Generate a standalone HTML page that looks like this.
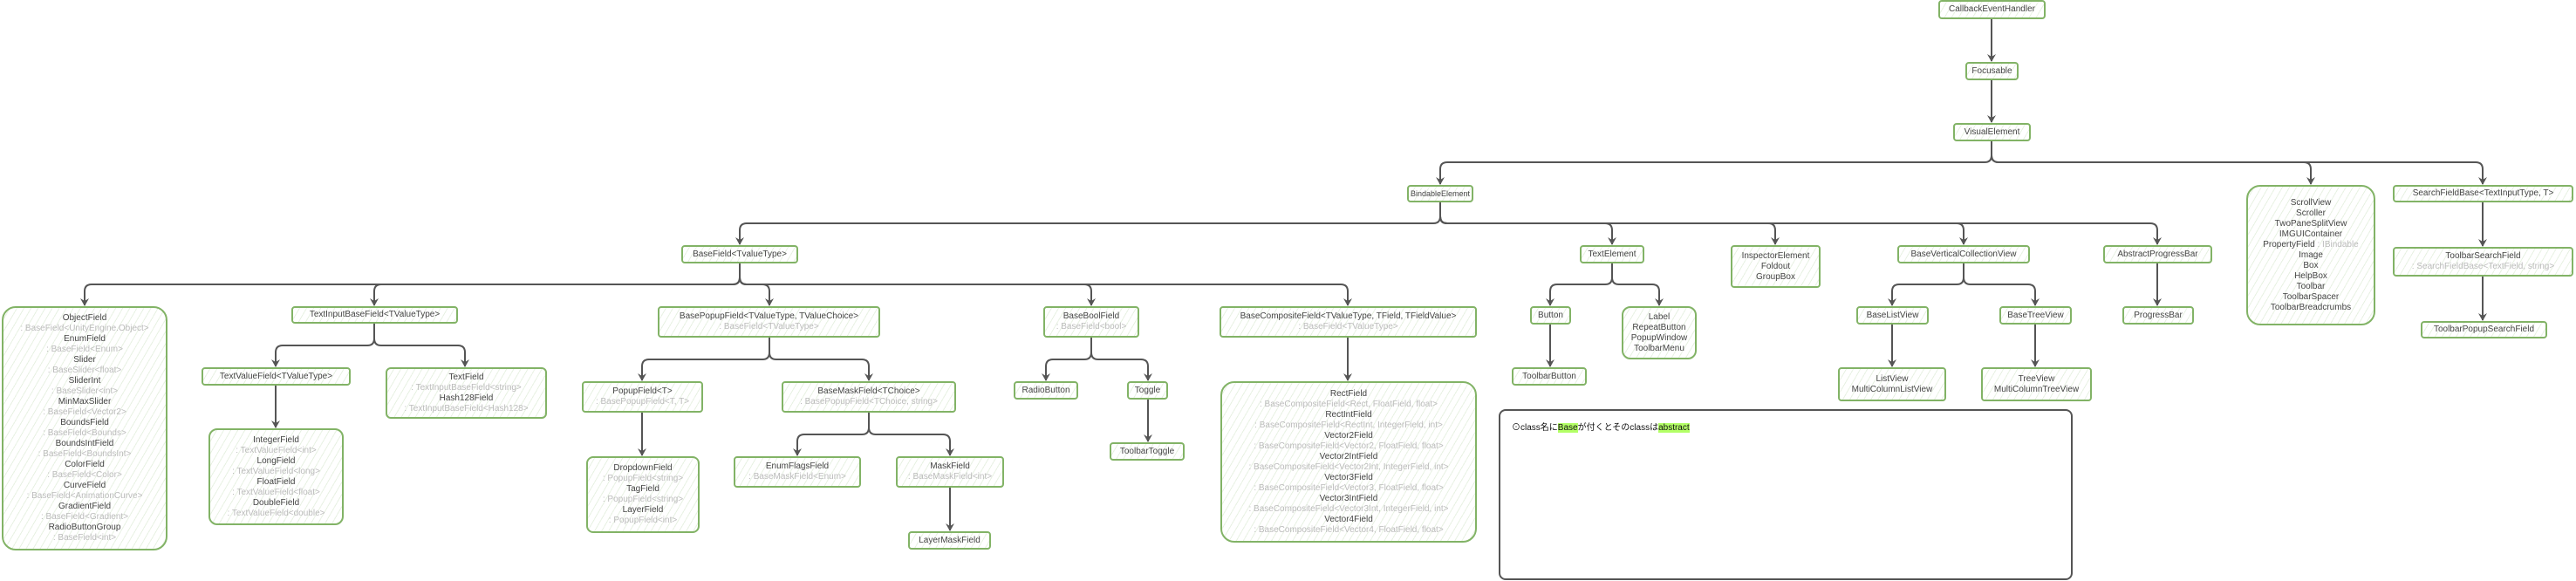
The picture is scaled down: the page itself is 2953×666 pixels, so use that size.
<!DOCTYPE html>
<html><head><meta charset="utf-8">
<style>
html,body{margin:0;padding:0;background:#fff;}
body{width:2953px;height:666px;position:relative;overflow:hidden;font-family:"Liberation Sans","Noto Sans CJK JP",sans-serif;}
svg{position:absolute;left:0;top:0;}
.n{position:absolute;box-sizing:border-box;border:2px solid #82b366;border-radius:4px;display:flex;flex-direction:column;align-items:center;justify-content:center;font-size:10px;line-height:12px;color:#444;text-align:center;white-space:nowrap;
background:repeating-linear-gradient(120deg,rgba(130,179,102,0.0) 0 6px,rgba(130,179,102,0.18) 6px 7px);}
.r{border-radius:16px;}
.s{color:#bbb;}
.note{position:absolute;box-sizing:border-box;border:2px solid #555;border-radius:8px;left:1718px;top:469px;width:658px;height:196px;font-size:10px;color:#111;padding:10px 0 0 13px;}
.hl{background:#b3ff66;}
</style></head><body>
<svg width="2953" height="666" viewBox="0 0 2953 666">
<defs><marker id="a" markerWidth="10" markerHeight="10" refX="8" refY="5" orient="auto" markerUnits="userSpaceOnUse"><path d="M0,0 L9,5 L0,10 L3,5 Z" fill="#555"/></marker></defs>
<g fill="none" stroke="#555" stroke-width="2" stroke-linejoin="round" marker-end="url(#a)">
<path d="M2283,22 V70"/>
<path d="M2283,92 V140"/>
<path d="M2283,162 V178 Q2283,186 2275,186 H1659 Q1651,186 1651,194 V211"/>
<path d="M2283,162 V178 Q2283,186 2291,186 H2641 Q2649,186 2649,194 V211"/>
<path d="M2283,162 V178 Q2283,186 2291,186 H2838 Q2846,186 2846,194 V211"/>
<path d="M1651,232 V248 Q1651,256 1643,256 H856 Q848,256 848,264 V280"/>
<path d="M1651,232 V248 Q1651,256 1659,256 H1840 Q1848,256 1848,264 V280"/>
<path d="M1651,232 V248 Q1651,256 1659,256 H2027 Q2035,256 2035,264 V280"/>
<path d="M1651,232 V248 Q1651,256 1659,256 H2243 Q2251,256 2251,264 V280"/>
<path d="M1651,232 V248 Q1651,256 1659,256 H2465 Q2473,256 2473,264 V280"/>
<path d="M848,302 V318 Q848,326 840,326 H105 Q97,326 97,334 V350"/>
<path d="M848,302 V318 Q848,326 840,326 H437 Q429,326 429,334 V350"/>
<path d="M848,302 V318 Q848,326 856,326 H874 Q882,326 882,334 V350"/>
<path d="M848,302 V318 Q848,326 856,326 H1243 Q1251,326 1251,334 V350"/>
<path d="M848,302 V318 Q848,326 856,326 H1537 Q1545,326 1545,334 V350"/>
<path d="M429,371 V388 Q429,396 421,396 H324 Q316,396 316,404 V420"/>
<path d="M429,371 V388 Q429,396 437,396 H525 Q533,396 533,404 V420"/>
<path d="M316,442 V490"/>
<path d="M882,387 V404 Q882,412 874,412 H744 Q736,412 736,420 V436"/>
<path d="M882,387 V404 Q882,412 890,412 H988 Q996,412 996,420 V436"/>
<path d="M736,473 V522"/>
<path d="M996,473 V490 Q996,498 988,498 H922 Q914,498 914,506 V522"/>
<path d="M996,473 V490 Q996,498 1004,498 H1081 Q1089,498 1089,506 V522"/>
<path d="M1089,559 V608"/>
<path d="M1251,387 V404 Q1251,412 1243,412 H1207 Q1199,412 1199,420 V436"/>
<path d="M1251,387 V404 Q1251,412 1259,412 H1308 Q1316,412 1316,420 V436"/>
<path d="M1316,458 V506"/>
<path d="M1545,387 V436"/>
<path d="M1848,302 V318 Q1848,326 1840,326 H1785 Q1777,326 1777,334 V350"/>
<path d="M1848,302 V318 Q1848,326 1856,326 H1894 Q1902,326 1902,334 V350"/>
<path d="M1777,372 V420"/>
<path d="M2251,302 V318 Q2251,326 2243,326 H2177 Q2169,326 2169,334 V350"/>
<path d="M2251,302 V318 Q2251,326 2259,326 H2325 Q2333,326 2333,334 V350"/>
<path d="M2169,372 V420"/>
<path d="M2333,372 V420"/>
<path d="M2473,302 V350"/>
<path d="M2846,232 V282"/>
<path d="M2846,317 V367"/>
</g>
</svg>

<div class="n" style="left:2222px;top:0px;width:123px;height:22px">CallbackEventHandler</div>
<div class="n" style="left:2253px;top:71px;width:61px;height:21px">Focusable</div>
<div class="n" style="left:2239px;top:141px;width:89px;height:21px">VisualElement</div>
<div class="n" style="left:1613px;top:212px;width:76px;height:20px;font-size:9px">BindableElement</div>
<div class="n r" style="left:2575px;top:212px;width:148px;height:161px">ScrollView<br>Scroller<br>TwoPaneSplitView<br>IMGUIContainer<br><span>PropertyField <span class="s">: IBindable</span></span>Image<br>Box<br>HelpBox<br>Toolbar<br>ToolbarSpacer<br>ToolbarBreadcrumbs</div>
<div class="n" style="left:2743px;top:212px;width:207px;height:20px">SearchFieldBase&lt;TextInputType, T&gt;</div>
<div class="n" style="left:2743px;top:283px;width:207px;height:34px">ToolbarSearchField<span class="s">: SearchFieldBase&lt;TextField, string&gt;</span></div>
<div class="n" style="left:2775px;top:368px;width:145px;height:20px">ToolbarPopupSearchField</div>

<div class="n" style="left:781px;top:281px;width:134px;height:21px">BaseField&lt;TvalueType&gt;</div>
<div class="n" style="left:1811px;top:281px;width:74px;height:21px">TextElement</div>
<div class="n" style="left:1984px;top:281px;width:103px;height:49px">InspectorElement<br>Foldout<br>GroupBox</div>
<div class="n" style="left:2175px;top:281px;width:152px;height:21px">BaseVerticalCollectionView</div>
<div class="n" style="left:2411px;top:281px;width:125px;height:21px">AbstractProgressBar</div>

<div class="n r" style="left:2px;top:351px;width:190px;height:280px">ObjectField<span class="s">: BaseField&lt;UnityEngine.Object&gt;</span>EnumField<span class="s">: BaseField&lt;Enum&gt;</span>Slider<span class="s">: BaseSlider&lt;float&gt;</span>SliderInt<span class="s">: BaseSlider&lt;int&gt;</span>MinMaxSlider<span class="s">: BaseField&lt;Vector2&gt;</span>BoundsField<span class="s">: BaseField&lt;Bounds&gt;</span>BoundsIntField<span class="s">: BaseField&lt;BoundsInt&gt;</span>ColorField<span class="s">: BaseField&lt;Color&gt;</span>CurveField<span class="s">: BaseField&lt;AnimationCurve&gt;</span>GradientField<span class="s">: BaseField&lt;Gradient&gt;</span>RadioButtonGroup<span class="s">: BaseField&lt;int&gt;</span></div>
<div class="n" style="left:334px;top:351px;width:191px;height:20px">TextInputBaseField&lt;TValueType&gt;</div>
<div class="n" style="left:754px;top:351px;width:255px;height:36px">BasePopupField&lt;TValueType, TValueChoice&gt;<span class="s">: BaseField&lt;TValueType&gt;</span></div>
<div class="n" style="left:1196px;top:351px;width:110px;height:36px">BaseBoolField<span class="s">: BaseField&lt;bool&gt;</span></div>
<div class="n" style="left:1398px;top:351px;width:295px;height:36px">BaseCompositeField&lt;TValueType, TField, TFieldValue&gt;<span class="s">: BaseField&lt;TValueType&gt;</span></div>
<div class="n" style="left:1754px;top:351px;width:47px;height:21px">Button</div>
<div class="n r" style="left:1859px;top:351px;width:86px;height:61px;border-radius:10px">Label<br>RepeatButton<br>PopupWindow<br>ToolbarMenu</div>
<div class="n" style="left:2128px;top:351px;width:83px;height:21px">BaseListView</div>
<div class="n" style="left:2292px;top:351px;width:83px;height:21px">BaseTreeView</div>
<div class="n" style="left:2433px;top:351px;width:82px;height:21px">ProgressBar</div>

<div class="n" style="left:231px;top:421px;width:171px;height:21px">TextValueField&lt;TValueType&gt;</div>
<div class="n" style="left:442px;top:421px;width:185px;height:59px;border-radius:6px">TextField<span class="s">: TextInputBaseField&lt;string&gt;</span>Hash128Field<span class="s">: TextInputBaseField&lt;Hash128&gt;</span></div>
<div class="n" style="left:1733px;top:421px;width:86px;height:21px">ToolbarButton</div>
<div class="n" style="left:2107px;top:421px;width:124px;height:39px">ListView<br>MultiColumnListView</div>
<div class="n" style="left:2271px;top:421px;width:127px;height:39px">TreeView<br>MultiColumnTreeView</div>

<div class="n" style="left:667px;top:437px;width:139px;height:36px">PopupField&lt;T&gt;<span class="s">: BasePopupField&lt;T, T&gt;</span></div>
<div class="n" style="left:896px;top:437px;width:200px;height:36px">BaseMaskField&lt;TChoice&gt;<span class="s">: BasePopupField&lt;TChoice, string&gt;</span></div>
<div class="n" style="left:1162px;top:437px;width:74px;height:21px">RadioButton</div>
<div class="n" style="left:1292px;top:437px;width:47px;height:21px">Toggle</div>
<div class="n r" style="left:1399px;top:437px;width:294px;height:185px">RectField<span class="s">: BaseCompositeField&lt;Rect, FloatField, float&gt;</span>RectIntField<span class="s">: BaseCompositeField&lt;RectInt, IntegerField, int&gt;</span>Vector2Field<span class="s">: BaseCompositeField&lt;Vector2, FloatField, float&gt;</span>Vector2IntField<span class="s">: BaseCompositeField&lt;Vector2Int, IntegerField, int&gt;</span>Vector3Field<span class="s">: BaseCompositeField&lt;Vector3, FloatField, float&gt;</span>Vector3IntField<span class="s">: BaseCompositeField&lt;Vector3Int, IntegerField, int&gt;</span>Vector4Field<span class="s">: BaseCompositeField&lt;Vector4, FloatField, float&gt;</span></div>

<div class="n r" style="left:239px;top:491px;width:155px;height:111px;border-radius:10px">IntegerField<span class="s">: TextValueField&lt;int&gt;</span>LongField<span class="s">: TextValueField&lt;long&gt;</span>FloatField<span class="s">: TextValueField&lt;float&gt;</span>DoubleField<span class="s">: TextValueField&lt;double&gt;</span></div>
<div class="n" style="left:1272px;top:507px;width:86px;height:21px">ToolbarToggle</div>
<div class="n r" style="left:672px;top:523px;width:130px;height:88px;border-radius:8px">DropdownField<span class="s">: PopupField&lt;string&gt;</span>TagField<span class="s">: PopupField&lt;string&gt;</span>LayerField<span class="s">: PopupField&lt;int&gt;</span></div>
<div class="n" style="left:841px;top:523px;width:146px;height:36px">EnumFlagsField<span class="s">: BaseMaskField&lt;Enum&gt;</span></div>
<div class="n" style="left:1027px;top:523px;width:124px;height:36px">MaskField<span class="s">: BaseMaskField&lt;int&gt;</span></div>
<div class="n" style="left:1041px;top:609px;width:95px;height:21px">LayerMaskField</div>

<div class="note">⊙class名に<span class="hl">Base</span>が付くとそのclassは<span class="hl">abstract</span></div>
</body></html>
